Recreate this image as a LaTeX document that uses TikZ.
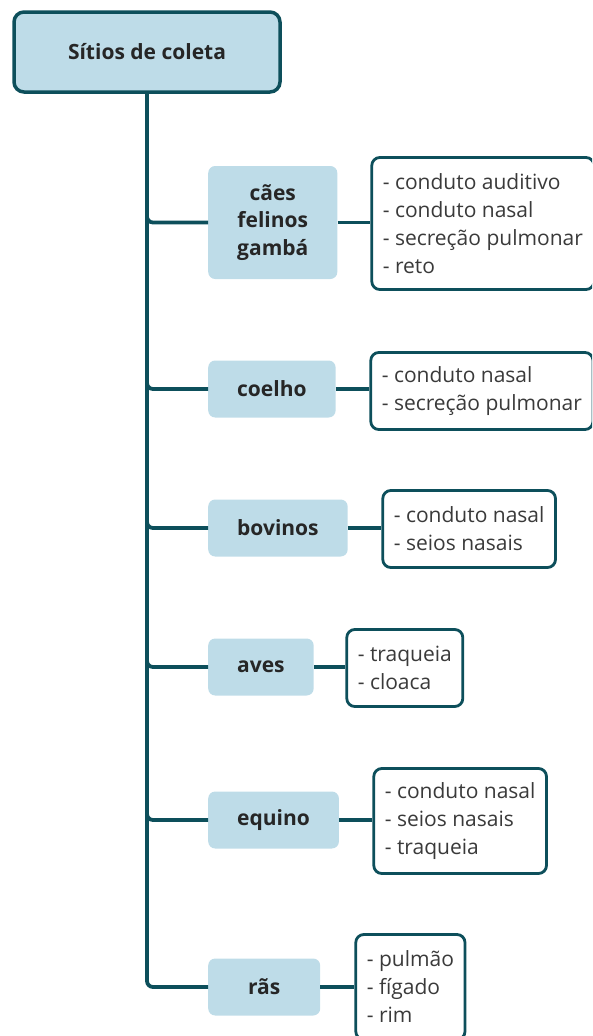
\documentclass[tikz,border=0pt]{standalone}
\usepackage{fontspec}
\setmainfont{Open Sans}
\definecolor{treeteal}{HTML}{0D4F5B}
\definecolor{groupblue}{HTML}{BEDCE8}
\definecolor{sitegray}{HTML}{3A3A3A}
\tikzset{
  rootbox/.style={draw=treeteal,line width=3.5pt,fill=groupblue,
    rounded corners=10pt,minimum width=266pt,minimum height=80pt,
    text=black!85,font=\bfseries\fontsize{21}{26}\selectfont},
  groupbox/.style={fill=groupblue,rounded corners=7pt,anchor=west,
    inner xsep=29pt,minimum height=57pt,align=center,
    text=black!85,font=\bfseries\fontsize{21}{27.5}\selectfont},
  sitebox/.style={draw=treeteal,line width=2.8pt,fill=white,
    rounded corners=8pt,anchor=west,inner xsep=11pt,align=left,
    text=sitegray,font=\fontsize{21}{28}\selectfont},
  branch/.style={line width=3.8pt,treeteal,rounded corners=6pt},
}
\begin{document}
\begin{tikzpicture}[x=1pt,y=-1pt]
\clip[use as bounding box] (0,0) rectangle (592,1036);
\node[rootbox] (root) at (147,52) {Sítios de coleta};
% animal groups
\node[groupbox,minimum height=113pt] (caes) at (208,222.5) {cães\\felinos\\gambá};
\node[groupbox] (coelho) at (208,389) {coelho};
\node[groupbox] (bovinos) at (208,528) {bovinos};
\node[groupbox] (aves) at (208,667) {aves};
\node[groupbox] (equino) at (208,820) {equino};
\node[groupbox,minimum width=112pt] (raes) at (208,987) {rãs};
% collection sites
\node[sitebox,minimum height=132pt] (caessites) at (370.4,223.5)
 {- conduto auditivo\\- conduto nasal\\- secreção pulmonar\\- reto};
\node[sitebox,minimum height=77pt] (coelhosites) at (369.4,391)
 {- conduto nasal\\- secreção pulmonar};
\node[sitebox,minimum height=77pt] (bovinossites) at (381.4,529)
 {- conduto nasal\\- seios nasais};
\node[sitebox,minimum height=77pt] (avessites) at (345.4,668)
 {- traqueia\\- cloaca};
\node[sitebox,minimum height=105pt] (equinosites) at (372.4,821)
 {- conduto nasal\\- seios nasais\\- traqueia};
\node[sitebox,minimum height=105pt] (raessites) at (354.4,987)
 {- pulmão\\- fígado\\- rim};
% trunk and branches
\path[branch,draw] (root.south) |- (raes.west);
\path[branch,draw] (root.south) |- (caes.west);
\path[branch,draw] (root.south) |- (coelho.west);
\path[branch,draw] (root.south) |- (bovinos.west);
\path[branch,draw] (root.south) |- (aves.west);
\path[branch,draw] (root.south) |- (equino.west);
% group to sites
\path[branch,draw] (caes.east) -- (caes.east -| caessites.west);
\path[branch,draw] (coelho.east) -- (coelho.east -| coelhosites.west);
\path[branch,draw] (bovinos.east) -- (bovinos.east -| bovinossites.west);
\path[branch,draw] (aves.east) -- (aves.east -| avessites.west);
\path[branch,draw] (equino.east) -- (equino.east -| equinosites.west);
\path[branch,draw] (raes.east) -- (raes.east -| raessites.west);
\end{tikzpicture}
\end{document}
